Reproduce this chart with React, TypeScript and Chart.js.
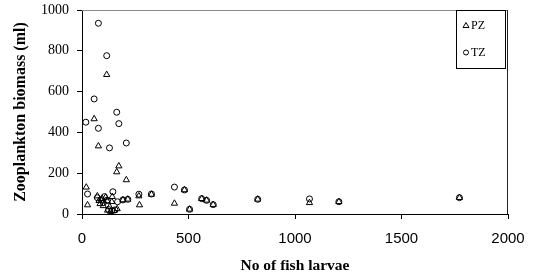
import React, { useEffect, useRef } from "react";
import { Chart, registerables } from "chart.js";

Chart.register(...registerables);

// PZ (triangles): [no of fish larvae, zooplankton biomass (ml)]
const pzX = [116, 57, 77, 173, 163, 208, 20, 26, 434, 270, 1068, 1206, 1772, 505, 481, 562, 585, 616, 825, 326, 267, 192, 215, 72, 80, 95, 111, 119, 85, 142, 120, 135, 150, 165, 100, 130, 140];
const pzY = [683, 466, 333, 235, 206, 167, 131, 44, 52, 44, 55, 60, 80, 23, 118, 75, 67, 46, 72, 96, 88, 69, 72, 88, 65, 75, 82, 62, 50, 85, 18, 12, 16, 25, 40, 35, 60];

// TZ (circles)
const tzX = [77, 116, 57, 163, 18, 173, 77, 208, 129, 26, 145, 434, 481, 505, 562, 585, 616, 825, 1068, 1206, 1772, 267, 326, 192, 215, 72, 90, 105, 118, 100, 125, 140, 155, 167];
const tzY = [935, 776, 564, 499, 450, 443, 420, 348, 324, 98, 109, 132, 118, 23, 75, 67, 46, 72, 74, 60, 80, 97, 98, 69, 72, 80, 70, 85, 68, 55, 22, 16, 20, 60];

const seriesNames = ["PZ", "TZ"];
const xTicks = [0, 500, 1000, 1500, 2000];
const yTicks = [0, 200, 400, 600, 800, 1000];

const toPoints = (xs: number[], ys: number[]) => xs.map((x, i) => ({ x, y: ys[i] }));

const framePlugin = {
  id: "frame",
  afterDraw(chart: any) {
    const { ctx, chartArea } = chart;
    const { left, right, top, bottom } = chartArea;
    ctx.save();
    ctx.lineWidth = 1;
    ctx.strokeStyle = "#8a8a8a";
    ctx.beginPath();
    ctx.moveTo(left, top + 0.5);
    ctx.lineTo(right, top + 0.5);
    ctx.stroke();
    ctx.strokeStyle = "#222";
    ctx.beginPath();
    ctx.moveTo(right - 0.5, top);
    ctx.lineTo(right - 0.5, bottom);
    ctx.stroke();

    // legend box
    const bx = right - 51.5;
    const by = top + 0.5;
    const bw = 49;
    const bh = 58;
    ctx.strokeStyle = "#000";
    ctx.strokeRect(bx, by, bw, bh);
    ctx.font = "12px 'Liberation Serif', 'Times New Roman', serif";
    ctx.fillStyle = "#000";
    ctx.textBaseline = "middle";
    ctx.textAlign = "left";
    // triangle
    const tx = bx + 9.5;
    const ty = by + 15;
    ctx.beginPath();
    ctx.moveTo(tx, ty - 3);
    ctx.lineTo(tx + 3, ty + 2);
    ctx.lineTo(tx - 3, ty + 2);
    ctx.closePath();
    ctx.stroke();
    ctx.fillText(seriesNames[0], tx + 5, ty);
    // circle
    const cy = by + 42;
    ctx.beginPath();
    ctx.arc(tx, cy, 2.5, 0, Math.PI * 2);
    ctx.stroke();
    ctx.fillText(seriesNames[1], tx + 5, cy);
    ctx.restore();
  },
};

export default function App() {
  const ref = useRef<HTMLCanvasElement>(null);
  useEffect(() => {
    if (!ref.current) return;
    const chart = new Chart(ref.current, {
      type: "scatter",
      data: {
        datasets: [
          {
            label: seriesNames[0],
            data: toPoints(pzX, pzY),
            pointStyle: "triangle",
            pointRadius: 3.6,
            borderColor: "#000",
            backgroundColor: "rgba(0,0,0,0)",
            borderWidth: 1,
          },
          {
            label: seriesNames[1],
            data: toPoints(tzX, tzY),
            pointStyle: "circle",
            pointRadius: 3,
            borderColor: "#000",
            backgroundColor: "rgba(0,0,0,0)",
            borderWidth: 1,
          },
        ],
      },
      options: {
        responsive: false,
        animation: false,
        devicePixelRatio: 1,
        layout: { padding: { left: 0, top: 10, right: 25, bottom: 0 } },
        plugins: { legend: { display: false }, tooltip: { enabled: false } },
        scales: {
          x: {
            type: "linear",
            min: 0,
            max: 2000,
            afterBuildTicks: (s: any) => {
              s.ticks = xTicks.map((v) => ({ value: v }));
            },
            afterFit: (s: any) => {
              s.height = 61;
              s.paddingLeft = 0;
              s.paddingRight = 0;
            },
            ticks: {
              color: "#000",
              padding: 11,
              maxRotation: 0,
              callback: (v: any) => String(v),
              font: { family: "'Liberation Sans', Arial, sans-serif", size: 15 },
            },
            grid: { display: true, drawOnChartArea: false, drawTicks: true, tickLength: 5, color: "#000" },
            border: { display: true, color: "#000", width: 1 },
            title: {
              display: true,
              text: "No of fish larvae",
              color: "#000",
              padding: { top: 0, bottom: 0 },
              font: { family: "'Liberation Serif', 'Times New Roman', serif", size: 15.5, weight: "bold" },
            },
          },
          y: {
            type: "linear",
            min: 0,
            max: 1000,
            afterBuildTicks: (s: any) => {
              s.ticks = yTicks.map((v) => ({ value: v }));
            },
            afterFit: (s: any) => {
              s.width = 82;
              s.paddingTop = 0;
              s.paddingBottom = 0;
            },
            ticks: {
              color: "#000",
              padding: 8,
              callback: (v: any) => String(v),
              font: { family: "'Liberation Serif', 'Times New Roman', serif", size: 14 },
            },
            grid: { display: true, drawOnChartArea: false, drawTicks: true, tickLength: 5, color: "#000" },
            border: { display: true, color: "#000", width: 1 },
            title: {
              display: true,
              text: "Zooplankton biomass (ml)",
              color: "#000",
              padding: { top: 11, bottom: 0 },
              font: { family: "'Liberation Serif', 'Times New Roman', serif", size: 16, weight: "bold" },
            },
          },
        },
      },
      plugins: [framePlugin],
    });
    return () => chart.destroy();
  }, []);
  return (
    <div style={{ position: "absolute", left: 0, top: 0, width: 533, height: 275, background: "#fff" }}>
      <canvas ref={ref} width={533} height={275} style={{ display: "block" }} />
    </div>
  );
}
